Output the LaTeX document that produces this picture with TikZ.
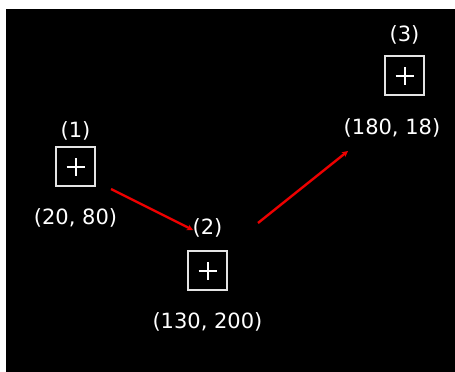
\documentclass[tikz,border=0pt]{standalone}
\usepackage{fontspec}
\setmainfont{DejaVu Sans}
\usetikzlibrary{arrows.meta, positioning}
\definecolor{cellgray}{HTML}{E4E4E4}
\definecolor{pathred}{HTML}{EE0000}

\begin{document}
\begin{tikzpicture}[x=1pt, y=-1pt, font=\fontsize{21}{25}\selectfont,
  cell/.style={draw=cellgray, line width=2pt, minimum size=39pt, inner sep=0pt,
    path picture={\draw[white, line width=2pt] (path picture bounding box.center) +(-9pt,0) -- +(9pt,0) +(0,-9pt) -- +(0,9pt);}},
  tag/.style={text=white, inner sep=0pt},
  hop/.style={draw=pathred, line width=2.4pt, -{Stealth[length=6pt, width=6pt]}}]
  \fill[white] (0,0) rectangle (455,372);
  \fill[black] (6,9) rectangle (455,372);
  \useasboundingbox (0,0) rectangle (455,372);

  \node[cell] (b1) at (75.5,166.5) {};
  \node[cell] (b2) at (207.5,270.5) {};
  \node[cell] (b3) at (404.5,75.5) {};

  \node[tag, above=6pt of b1] (n1) {(1)};
  \node[tag, below=21pt of b1] (p1) {(20, 80)};
  \node[tag, above=12.5pt of b2] (n2) {(2)};
  \node[tag, below=21.5pt of b2] (p2) {(130, 200)};
  \node[tag, above=10.5pt of b3] (n3) {(3)};
  \node[tag, below=22.5pt of b3, xshift=-12.5pt] (p3) {(180, 18)};

  \coordinate (s1) at (111,189);
  \coordinate (e1) at (193,230);
  \coordinate (s2) at (258,223);
  \coordinate (e2) at (348,151);
  \draw[hop] (s1) -- (e1);
  \draw[hop] (s2) -- (e2);
\end{tikzpicture}
\end{document}
